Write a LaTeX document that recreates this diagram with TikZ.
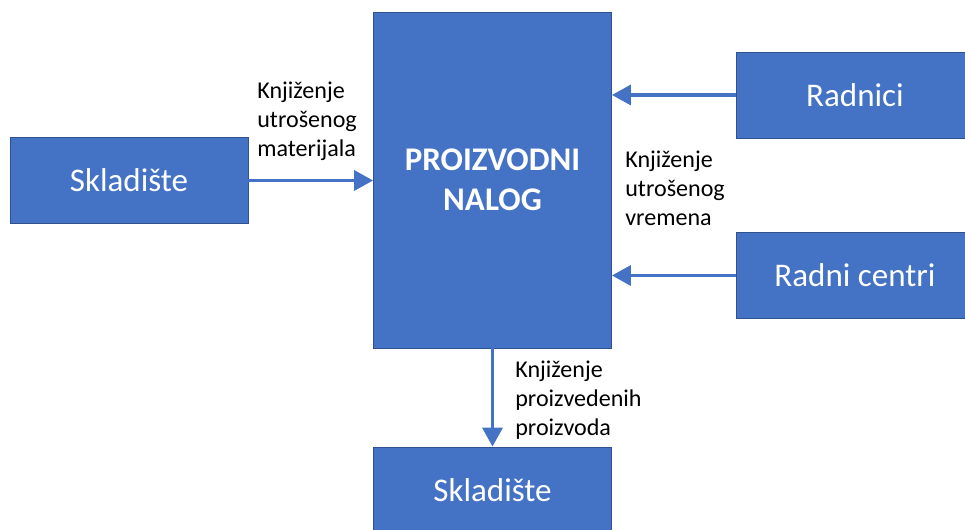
\documentclass[tikz,border=0pt]{standalone}
\usepackage{fontspec}
\setmainfont{Carlito}
\usetikzlibrary{arrows.meta}
\definecolor{nalogblue}{HTML}{4472C4}
\definecolor{nalogedge}{HTML}{2F528F}

\begin{document}
\begin{tikzpicture}[
    box/.style={draw=nalogedge, line width=0.5pt, fill=nalogblue, text=white,
        minimum width=4.76cm, minimum height=1.72cm,
        font=\fontsize{18.8}{22}\selectfont},
    flow/.style={nalogblue, line width=2pt, -{Triangle[length=0.38cm, width=0.4cm]}},
    lbl/.style={anchor=north west, inner sep=0pt, align=left,
        font=\fontsize{13.7}{16.5}\selectfont}
]
    \useasboundingbox (0,0) rectangle (19.3,-10.6);

    % blocks
    \node[box] (skl1) at (2.58,-3.61) {Skladište};
    \node[box, minimum height=6.72cm, align=center,
        font=\fontsize{18.8}{22.8}\selectfont\bfseries] (nalog) at (9.85,-3.6) {PROIZVODNI\\NALOG};
    \node[box] (radnici) at (17.1,-1.9) {Radnici};
    \node[box] (centri) at (17.1,-5.51) {Radni centri};
    \node[box] (skl2) at (9.85,-9.8) {Skladište};

    % flows
    \draw[flow] (skl1.east) -- (skl1.east -| nalog.west);
    \draw[flow] (radnici.west) -- (radnici.west -| nalog.east);
    \draw[flow] (centri.west) -- (centri.west -| nalog.east);
    \draw[flow] (nalog.south) -- (skl2.north);

    % labels
    \node[lbl] (mat) at (5.14,-1.64) {Knjiženje\\utrošenog\\materijala};
    \node[lbl] (vrijeme) at (12.5,-3.02) {Knjiženje\\utrošenog\\vremena};
    \node[lbl] (proizv) at (10.3,-7.22) {Knjiženje\\proizvedenih\\proizvoda};
\end{tikzpicture}
\end{document}
